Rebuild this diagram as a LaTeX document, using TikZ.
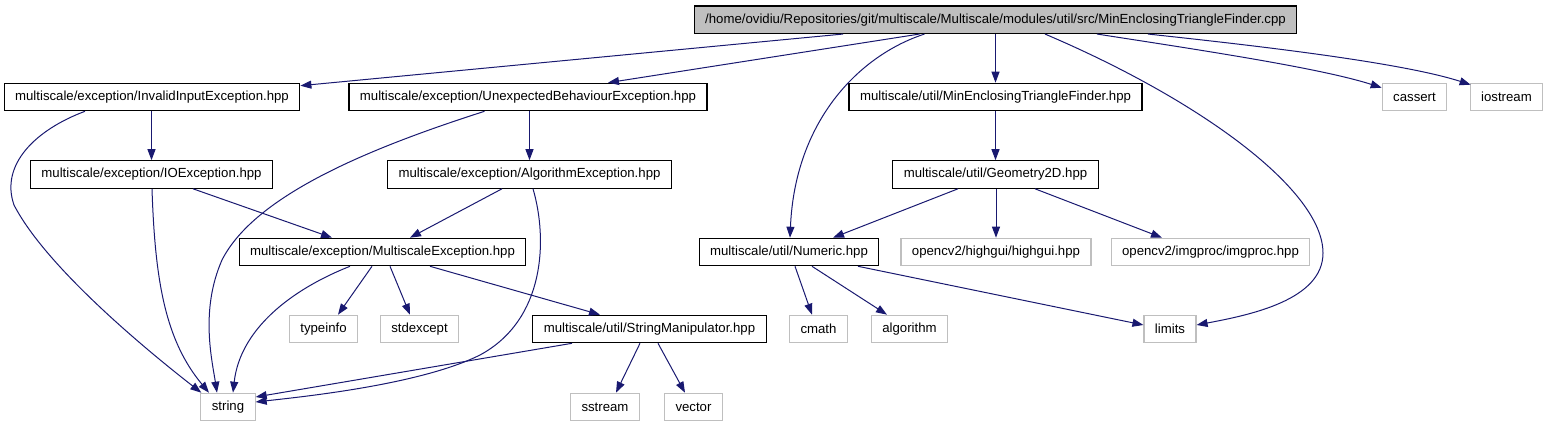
\documentclass[tikz,border=0pt]{standalone}
\usepackage{fontspec}
\setmainfont{Liberation Sans}
\usetikzlibrary{arrows.meta,calc}
\definecolor{edgeblue}{RGB}{25,25,112}
\definecolor{extgray}{RGB}{191,191,191}
\begin{document}
\begin{tikzpicture}[x=1pt,y=-1pt,
  box/.style={draw=black,line width=1.1pt,minimum height=27.5pt,inner ysep=0pt,inner xsep=11pt,font=\fontsize{13.2}{15}\selectfont},
  ext/.style={box,draw=extgray},
  rootbox/.style={box,fill=extgray},
  dep/.style={draw=edgeblue,line width=1pt,-{Triangle[length=11pt,width=8pt]}}]
\useasboundingbox (0,0) rectangle (1548,427);
% row 0
\node[rootbox] (root) at (995.5,19.75) {/home/ovidiu/Repositories/git/multiscale/Multiscale/modules/util/src/MinEnclosingTriangleFinder.cpp};
% row 1
\node[box] (inv) at (152,97) {multiscale/exception/InvalidInputException.hpp};
\node[box] (unexp) at (528,97) {multiscale/exception/UnexpectedBehaviourException.hpp};
\node[box] (mineh) at (995.5,97) {multiscale/util/MinEnclosingTriangleFinder.hpp};
\node[ext] (cassert) at (1414.5,97) {cassert};
\node[ext] (iostream) at (1506.5,97) {iostream};
% row 2
\node[box] (ioex) at (151.5,174.5) {multiscale/exception/IOException.hpp};
\node[box] (algex) at (529.5,174.5) {multiscale/exception/AlgorithmException.hpp};
\node[box] (geom) at (995.5,174.5) {multiscale/util/Geometry2D.hpp};
% row 3
\node[box] (msex) at (382.5,252) {multiscale/exception/MultiscaleException.hpp};
\node[box] (numeric) at (789,252) {multiscale/util/Numeric.hpp};
\node[ext] (highgui) at (996,252) {opencv2/highgui/highgui.hpp};
\node[ext] (imgproc) at (1210.5,252) {opencv2/imgproc/imgproc.hpp};
% row 4
\node[ext] (typeinfo) at (323.5,329) {typeinfo};
\node[ext] (stdexcept) at (419.5,329) {stdexcept};
\node[box] (strman) at (649.5,329) {multiscale/util/StringManipulator.hpp};
\node[ext] (cmath) at (818.5,329) {cmath};
\node[ext] (algorithm) at (909.5,329) {algorithm};
\node[ext] (limits) at (1170,329) {limits};
% row 5
\node[ext] (string) at (228,407) {string};
\node[ext] (sstream) at (605,407) {sstream};
\node[ext] (vector) at (693.5,407) {vector};
% edges from root
\draw[dep] ([xshift=-152.5pt]root.south) -- ([yshift=-3pt]inv.north east);
\draw[dep] ([xshift=-76pt]root.south) -- ([xshift=80pt]unexp.north);
\draw[dep] ([xshift=-71pt]root.south) .. controls (860,55) and (795,120) .. ([xshift=1pt]numeric.north);
\draw[dep] (root.south -| mineh.north) -- (mineh.north);
\draw[dep] ([xshift=49.5pt]root.south) .. controls (1200,100) and (1323,190) .. (1323,253) .. controls (1323,300) and (1250,315) .. ([yshift=4pt]limits.east);
\draw[dep] ([xshift=101.5pt]root.south) .. controls (1200,50) and (1320,68) .. ([yshift=-5pt]cassert.north west);
\draw[dep] ([xshift=152.5pt]root.south) .. controls (1250,45) and (1400,62) .. ([xshift=1pt,yshift=-2pt]iostream.north west);
% inv
\draw[dep] (inv.south -| ioex.north) -- (ioex.north);
\draw[dep] ([xshift=-67pt]inv.south) .. controls (35,130) and (0,165) .. (14,205) .. controls (45,265) and (140,345) .. ([xshift=1pt]string.north west);
% unexp
\draw[dep] (unexp.south -| algex.north) -- (algex.north);
\draw[dep] ([xshift=-43.5pt]unexp.south) .. controls (370,148) and (255,195) .. (222,260) .. controls (200,310) and (212,360) .. ([xshift=-11pt]string.north);
% ioex
\draw[dep] ([xshift=0.5pt]ioex.south) .. controls (155,280) and (165,340) .. ([xshift=-19pt]string.north);
\draw[dep] ([xshift=41.5pt]ioex.south) -- ([xshift=-50.5pt]msex.north);
% algex
\draw[dep] ([xshift=-27.5pt]algex.south) -- ([xshift=27.5pt]msex.north);
\draw[dep] ([xshift=3.5pt]algex.south) .. controls (548,240) and (545,320) .. (480,355) .. controls (420,385) and (300,397) .. ([yshift=5pt]string.east);
% msex
\draw[dep] ([xshift=-32.5pt]msex.south) .. controls (290,290) and (240,330) .. ([xshift=5pt]string.north);
\draw[dep] ([xshift=-10.5pt]msex.south) -- ([xshift=14.5pt]typeinfo.north);
\draw[dep] ([xshift=7.5pt]msex.south) -- ([xshift=-9.5pt]stdexcept.north);
\draw[dep] ([xshift=47.5pt]msex.south) -- ([xshift=-49.5pt]strman.north);
% strman
\draw[dep] ([xshift=-77.5pt]strman.south) -- ([yshift=10pt]string.east);
\draw[dep] ([xshift=-9.5pt]strman.south) -- ([xshift=11pt]sstream.north);
\draw[dep] ([xshift=8.5pt]strman.south) -- ([xshift=-8.5pt]vector.north);
% mineh, geom
\draw[dep] (mineh.south -| geom.north) -- (geom.north);
\draw[dep] ([xshift=-37.5pt]geom.south) -- ([xshift=44pt]numeric.north);
\draw[dep] (geom.south -| highgui.north) -- (highgui.north);
\draw[dep] ([xshift=39.5pt]geom.south) -- ([xshift=-48.5pt]imgproc.north);
% numeric
\draw[dep] ([xshift=6pt]numeric.south) -- ([xshift=-6.5pt]cmath.north);
\draw[dep] ([xshift=23pt]numeric.south) -- ([xshift=-22.5pt]algorithm.north);
\draw[dep] ([xshift=69pt]numeric.south) -- ([yshift=4pt]limits.west);
\end{tikzpicture}
\end{document}
